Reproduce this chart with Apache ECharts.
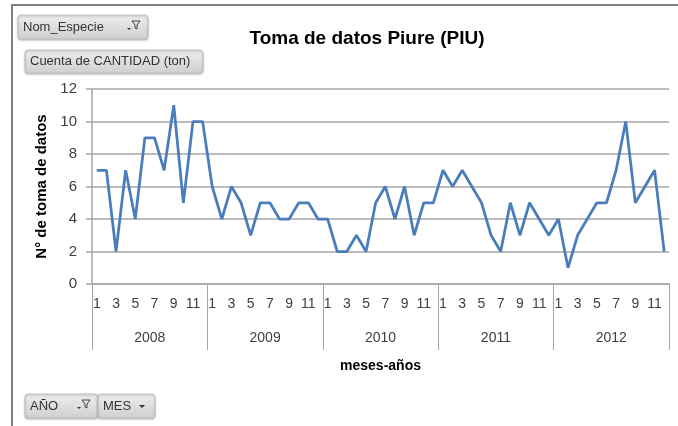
<!DOCTYPE html>
<html style="height: 100%">
<head>
    <meta charset="utf-8">
</head>
<body style="height: 100%; margin: 0; background: #fff">
<div id="container" style="width: 678px; height: 426px"></div>
<script src="https://cdn.jsdelivr.net/npm/echarts@6/dist/echarts.min.js"></script>
<script type="text/javascript">
    // datos por año (meses 1..12)
    var anios = ['2008', '2009', '2010', '2011', '2012'];
    var meses = [1, 2, 3, 4, 5, 6, 7, 8, 9, 10, 11, 12];
    var y2008 = [7, 7, 2, 7, 4, 9, 9, 7, 11, 5, 10, 10];
    var y2009 = [6, 4, 6, 5, 3, 5, 5, 4, 4, 5, 5, 4];
    var y2010 = [4, 2, 2, 3, 2, 5, 6, 4, 6, 3, 5, 5];
    var y2011 = [7, 6, 7, 6, 5, 3, 2, 5, 3, 5, 4, 3];
    var y2012 = [4, 1, 3, 4, 5, 5, 7, 10, 5, 6, 7, 2];

    var fuente = "'Liberation Sans Narrow', 'Liberation Sans', sans-serif";
    var gris = '#a6a6a6';

    var cats = [];
    var valores = [];
    [y2008, y2009, y2010, y2011, y2012].forEach(function (serie, k) {
        for (var i = 0; i < serie.length; i++) {
            cats.push(anios[k] + '-' + meses[i]);
            valores.push(serie[i]);
        }
    });

    // botones del grafico dinamico
    function boton(x, y, w, h, texto, icono) {
        var hijos = [{
            type: 'rect',
            shape: {x: x, y: y, width: w, height: h, r: 3},
            style: {
                fill: new echarts.graphic.LinearGradient(0, 0, 0, 1, [
                    {offset: 0, color: '#eeeeee'}, {offset: 1, color: '#cfcfcf'}
                ]),
                stroke: '#c4c4c4', lineWidth: 1,
                shadowBlur: 2, shadowColor: 'rgba(0,0,0,0.25)', shadowOffsetY: 1
            }
        }, {
            type: 'text',
            style: {x: x + 5, y: y + h / 2, text: texto, fill: '#333', font: '13px ' + fuente, verticalAlign: 'middle'}
        }];
        if (icono === 'filtro') {
            hijos.push({
                type: 'polygon',
                shape: {points: [[x + w - 16, y + 6], [x + w - 8, y + 6], [x + w - 11, y + 10], [x + w - 11, y + 14], [x + w - 13, y + 13], [x + w - 13, y + 10]]},
                style: {fill: 'none', stroke: '#444', lineWidth: 1}
            });
            hijos.push({
                type: 'polygon',
                shape: {points: [[x + w - 21, y + 13], [x + w - 17, y + 13], [x + w - 19, y + 15]]},
                style: {fill: '#333'}
            });
        } else if (icono === 'flecha') {
            hijos.push({
                type: 'polygon',
                shape: {points: [[x + w - 16, y + 11], [x + w - 10, y + 11], [x + w - 13, y + 14]]},
                style: {fill: '#333'}
            });
        }
        return {type: 'group', children: hijos};
    }

    var dom = document.getElementById("container");
    var myChart = echarts.init(dom);
    var option = {
        backgroundColor: '#fff',
        animation: false,
        title: {
            text: 'Toma de datos Piure (PIU)',
            left: 362, top: 24, textAlign: 'center',
            textStyle: {fontFamily: fuente, fontSize: 19, fontWeight: 'bold', color: '#000'}
        },
        grid: {left: 92, right: 9, top: 89, bottom: 142},
        xAxis: [{
            type: 'category',
            data: cats,
            axisLine: {show: true, lineStyle: {color: gris, width: 1.5}},
            axisTick: {show: false},
            axisLabel: {
                interval: 1, margin: 13, color: '#404040', fontFamily: fuente, fontSize: 14,
                formatter: function (v) { return v.split('-')[1]; }
            }
        }, {
            type: 'category',
            data: anios,
            position: 'bottom',
            axisLine: {show: false},
            axisTick: {show: true, length: 66, lineStyle: {color: gris, width: 1}},
            axisLabel: {margin: 47, color: '#404040', fontFamily: fuente, fontSize: 14},
            name: 'meses-años',
            nameLocation: 'middle',
            nameGap: 75,
            nameTextStyle: {fontFamily: fuente, fontSize: 14, fontWeight: 'bold', color: '#000'}
        }],
        yAxis: {
            type: 'value',
            min: 0, max: 12, interval: 2,
            name: 'N° de toma de datos',
            nameLocation: 'middle',
            nameGap: 35,
            nameTextStyle: {fontFamily: fuente, fontSize: 15, fontWeight: 'bold', color: '#000'},
            axisLine: {show: true, lineStyle: {color: gris, width: 1.5}},
            axisTick: {show: true, length: 6, lineStyle: {color: gris, width: 1.5}},
            axisLabel: {margin: 15, color: '#404040', fontFamily: fuente, fontSize: 15},
            splitLine: {lineStyle: {color: gris, width: 1.5}}
        },
        series: [{
            type: 'line',
            data: valores,
            showSymbol: false,
            lineStyle: {color: '#4a7ebb', width: 2.75},
            itemStyle: {color: '#4a7ebb'}
        }],
        graphic: [
            {type: 'polyline', shape: {points: [[12, 426], [12, 5], [678, 5]]}, style: {fill: 'none', stroke: '#808080', lineWidth: 2}},
            boton(18, 15, 130, 24, 'Nom_Especie', 'filtro'),
            boton(25, 50, 178, 23, 'Cuenta de CANTIDAD (ton)', null),
            boton(25, 394, 73, 24, 'AÑO', 'filtro'),
            boton(98, 394, 57, 24, 'MES', 'flecha')
        ]
    };
    myChart.setOption(option, true);
</script>
</body>
</html>
